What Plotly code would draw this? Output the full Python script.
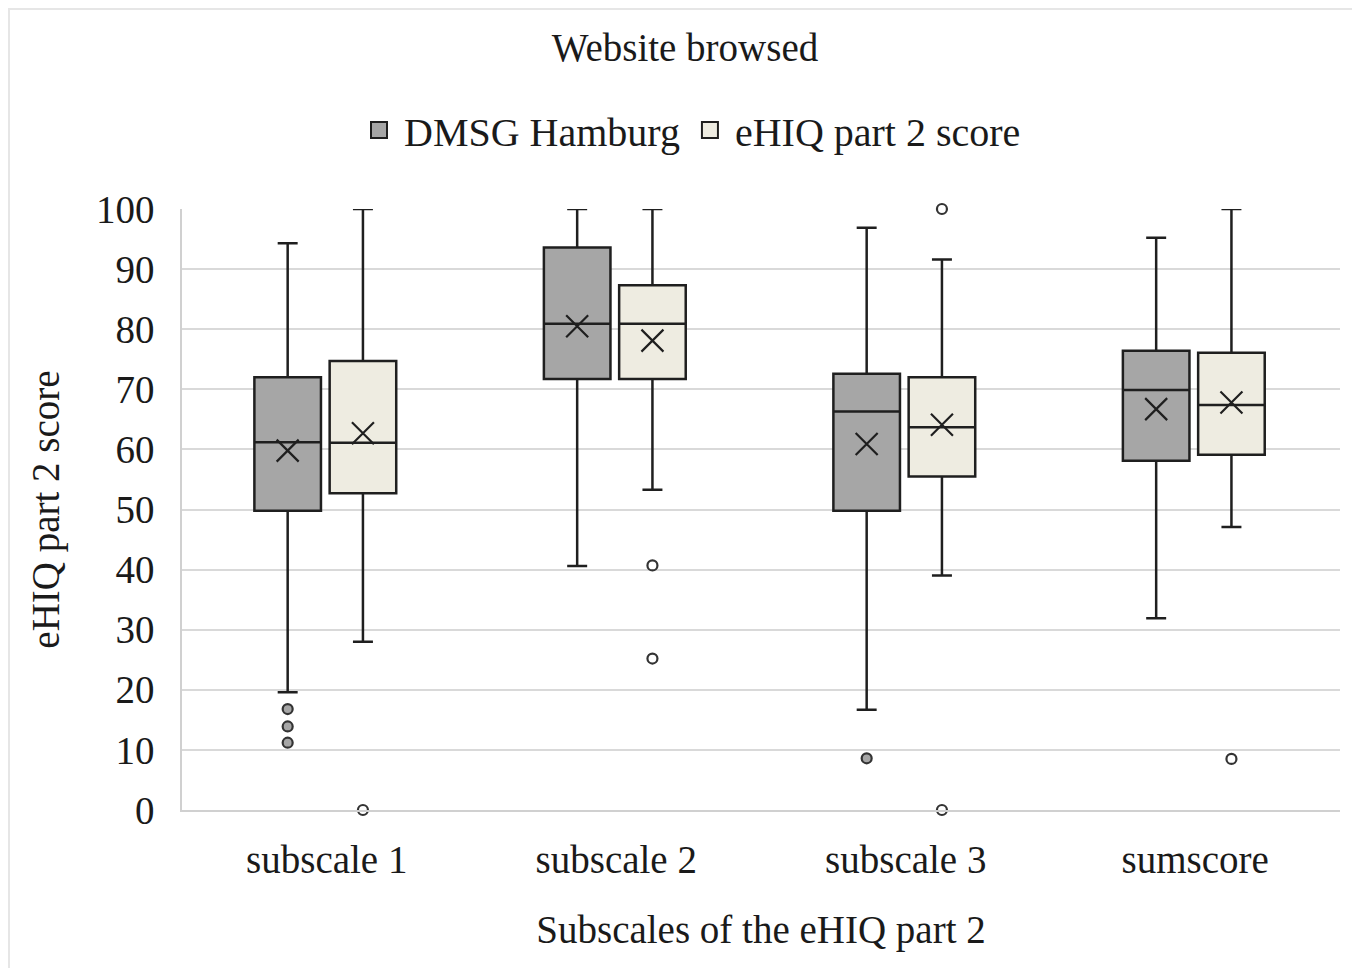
import plotly.graph_objects as go

categories = ["subscale 1", "subscale 2", "subscale 3", "sumscore"]
series_names = ["DMSG Hamburg", "eHIQ part 2 score"]

# DMSG Hamburg
dmsg_lower = [19.6, 40.6, 16.7, 31.9]
dmsg_q1 = [49.8, 71.7, 49.8, 58.1]
dmsg_median = [61.2, 80.9, 66.3, 69.9]
dmsg_q3 = [72.0, 93.6, 72.6, 76.4]
dmsg_upper = [94.3, 100.0, 96.9, 95.2]
dmsg_mean = [59.8, 80.5, 60.9, 66.7]
dmsg_outliers = [[16.8, 13.9, 11.2], [], [8.6], []]

# eHIQ part 2 score
ehiq_lower = [28.0, 53.3, 39.0, 47.1]
ehiq_q1 = [52.7, 71.7, 55.5, 59.1]
ehiq_median = [61.1, 80.9, 63.7, 67.4]
ehiq_q3 = [74.7, 87.3, 72.0, 76.1]
ehiq_upper = [100.0, 100.0, 91.6, 100.0]
ehiq_mean = [62.7, 78.1, 64.1, 67.8]
ehiq_outliers = [[0.0], [40.7, 25.2], [100.0, 0.0], [8.5]]

y_ticks = [0, 10, 20, 30, 40, 50, 60, 70, 80, 90, 100]

FONT = "Liberation Serif, Times New Roman, serif"
TXT = "#1a1a1a"
LINE = "#1f1f1f"
FS = 39
fills = ["#a6a6a6", "#eeece1"]
offsets = [-0.135, 0.125]
box_w = 0.23

# figure sits at (8, 8) inside the page (default body margin)
W, H = 1352, 960
L, T, R, B = 174, 201, 20, 158
PH = H - T - B

groups = [
    (dmsg_lower, dmsg_q1, dmsg_median, dmsg_q3, dmsg_upper, dmsg_mean, dmsg_outliers),
    (ehiq_lower, ehiq_q1, ehiq_median, ehiq_q3, ehiq_upper, ehiq_mean, ehiq_outliers),
]

fig = go.Figure()
for gi, (lo, q1, med, q3, up, mean, outs) in enumerate(groups):
    xs = [i + offsets[gi] for i in range(len(categories))]
    fig.add_trace(go.Box(
        name=series_names[gi], x=xs, lowerfence=lo, q1=q1, median=med, q3=q3, upperfence=up,
        width=box_w, whiskerwidth=0.3, boxpoints=False,
        fillcolor=fills[gi], line=dict(color=LINE, width=2.5),
        showlegend=False, hoverinfo="skip",
    ))
    fig.add_trace(go.Scatter(
        x=xs, y=mean, mode="markers", showlegend=False, cliponaxis=False, hoverinfo="skip",
        marker=dict(symbol="x-thin-open", size=22, color=LINE, line=dict(color=LINE, width=2.2)),
    ))
    ox, oy = [], []
    for i, vals in enumerate(outs):
        for v in vals:
            ox.append(i + offsets[gi])
            oy.append(v)
    fig.add_trace(go.Scatter(
        x=ox, y=oy, mode="markers", showlegend=False, cliponaxis=False, hoverinfo="skip",
        marker=dict(symbol="circle", size=10, color=fills[gi] if gi == 0 else "white",
                    line=dict(color="#333333", width=2.2)),
    ))
    # legend entry
    fig.add_trace(go.Scatter(
        x=[None], y=[None], mode="markers", name=series_names[gi], showlegend=True,
        marker=dict(symbol="square", size=26, color=fills[gi], line=dict(color=LINE, width=2)),
    ))

fig.update_layout(
    width=W, height=H,
    paper_bgcolor="white", plot_bgcolor="white",
    margin=dict(l=L, r=R, t=T, b=B, autoexpand=False),
    font=dict(family=FONT, color=TXT, size=FS),
    title=dict(text="Website browsed", x=677 / W, xanchor="center", xref="container",
               y=1 - 39 / H, yanchor="middle", yref="container",
               font=dict(family=FONT, size=FS, color=TXT)),
    legend=dict(orientation="h", x=(682 - L) / 1158, xanchor="center",
                y=(H - B - 122) / PH, yanchor="middle",
                font=dict(family=FONT, size=FS + 1, color=TXT), itemsizing="trace",
                itemwidth=40, bgcolor="rgba(0,0,0,0)"),
    xaxis=dict(
        range=[-0.5, len(categories) - 0.5], tickmode="array",
        tickvals=list(range(len(categories))), ticktext=categories,
        showgrid=False, zeroline=False, showline=True, linecolor="#d0d0d0", linewidth=1.5,
        ticks="outside", ticklen=14, tickcolor="rgba(0,0,0,0)",
        tickfont=dict(family=FONT, size=FS, color=TXT),
        title=dict(text="Subscales of the eHIQ part 2", standoff=36,
                   font=dict(family=FONT, size=FS, color=TXT)),
    ),
    yaxis=dict(
        range=[0, 100], tickmode="array", tickvals=y_ticks,
        showgrid=True, gridcolor="#d9d9d9", gridwidth=1.5, zeroline=False,
        showline=True, linecolor="#d0d0d0", linewidth=1.5,
        ticks="outside", ticklen=18, tickcolor="rgba(0,0,0,0)",
        tickfont=dict(family=FONT, size=FS, color=TXT),
        title=dict(text="eHIQ part 2 score", standoff=24,
                   font=dict(family=FONT, size=FS, color=TXT)),
    ),
    shapes=[dict(type="rect", xref="paper", yref="paper",
                 x0=(1 - L) / 1158, x1=(1349 - L) / 1158,
                 y0=(H - B - 975) / PH, y1=(H - B - 1) / PH,
                 line=dict(color="#e6e6e6", width=2), fillcolor="rgba(0,0,0,0)", layer="below")],
)

fig.write_html("out.html")
